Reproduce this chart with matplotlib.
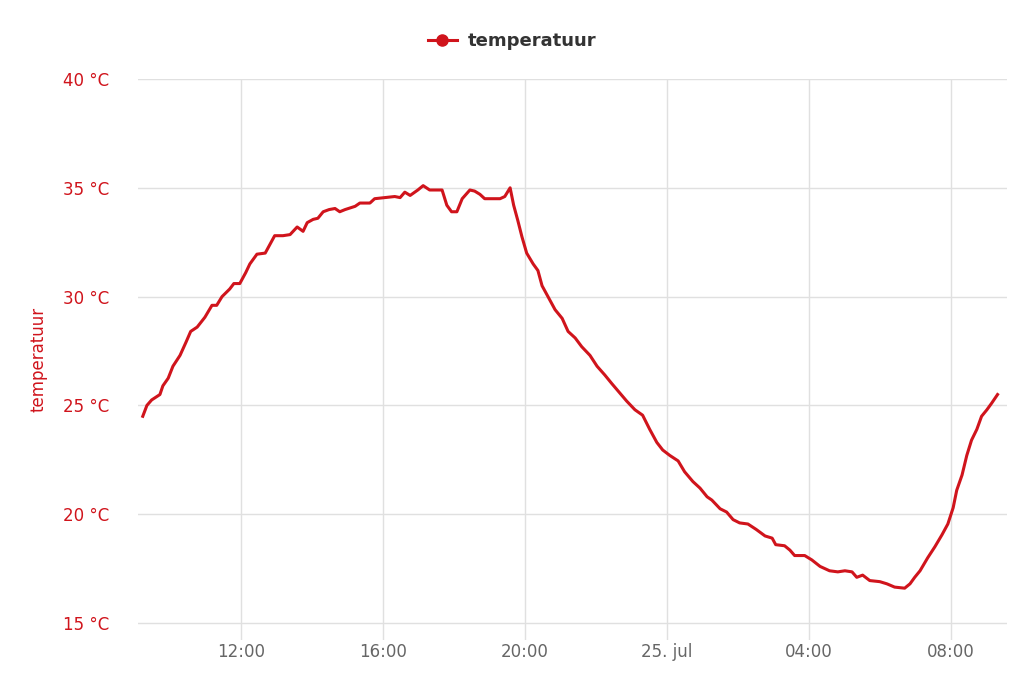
import matplotlib
matplotlib.use("Agg")
import matplotlib.pyplot as plt
import matplotlib.dates as mdates
from matplotlib.lines import Line2D
import pandas as pd

# meetmomenten (24 -> 25 juli)
tijden = [
    "24 09:14", "24 09:21", "24 09:29", "24 09:43", "24 09:48", "24 09:57",
    "24 10:05", "24 10:17", "24 10:27", "24 10:35", "24 10:46", "24 10:59",
    "24 11:11", "24 11:19", "24 11:28", "24 11:41", "24 11:48", "24 11:58",
    "24 12:08", "24 12:15", "24 12:27", "24 12:41", "24 12:49", "24 12:57",
    "24 13:11", "24 13:23", "24 13:35", "24 13:45", "24 13:52", "24 14:02",
    "24 14:10", "24 14:19", "24 14:29", "24 14:39", "24 14:47", "24 14:56",
    "24 15:13", "24 15:21", "24 15:38", "24 15:46", "24 16:03", "24 16:20",
    "24 16:29", "24 16:37", "24 16:46", "24 16:59", "24 17:08", "24 17:19",
    "24 17:33", "24 17:40", "24 17:48", "24 17:56", "24 18:05", "24 18:14",
    "24 18:27", "24 18:35", "24 18:44", "24 18:52", "24 19:18", "24 19:26",
    "24 19:35", "24 19:41", "24 19:48", "24 19:55", "24 20:03", "24 20:14",
    "24 20:22", "24 20:29", "24 20:39", "24 20:51", "24 21:03", "24 21:13",
    "24 21:25", "24 21:36", "24 21:50", "24 22:02", "24 22:15", "24 22:27",
    "24 22:41", "24 22:52", "24 23:06", "24 23:19", "24 23:31", "24 23:43",
    "24 23:53", "25 00:05", "25 00:19", "25 00:30", "25 00:44", "25 00:56",
    "25 01:08", "25 01:16", "25 01:30", "25 01:41", "25 01:52", "25 02:03",
    "25 02:17", "25 02:31", "25 02:46", "25 02:58", "25 03:04", "25 03:19",
    "25 03:28", "25 03:36", "25 03:53", "25 04:05", "25 04:19", "25 04:35",
    "25 04:49", "25 05:01", "25 05:13", "25 05:21", "25 05:31", "25 05:43",
    "25 06:00", "25 06:12", "25 06:25", "25 06:42", "25 06:51", "25 06:59",
    "25 07:08", "25 07:21", "25 07:33", "25 07:45", "25 07:55", "25 08:04",
    "25 08:10", "25 08:19", "25 08:27", "25 08:35", "25 08:44", "25 08:52",
    "25 09:01", "25 09:09", "25 09:19",
]
temperatuur = [
    24.5, 25.0, 25.25, 25.5, 25.9, 26.25,
    26.8, 27.3, 27.9, 28.4, 28.6, 29.05,
    29.6, 29.6, 30.0, 30.35, 30.6, 30.6,
    31.1, 31.5, 31.95, 32.0, 32.4, 32.8,
    32.8, 32.85, 33.2, 33.0, 33.4, 33.55,
    33.6, 33.9, 34.0, 34.05, 33.9, 34.0,
    34.15, 34.3, 34.3, 34.5, 34.55, 34.6,
    34.55, 34.8, 34.65, 34.9, 35.1, 34.9,
    34.9, 34.9, 34.2, 33.9, 33.9, 34.5,
    34.9, 34.85, 34.7, 34.5, 34.5, 34.6,
    35.0, 34.2, 33.5, 32.75, 32.0, 31.5,
    31.2, 30.5, 30.0, 29.4, 29.0, 28.4,
    28.1, 27.7, 27.3, 26.8, 26.4, 26.0,
    25.55, 25.2, 24.8, 24.55, 23.9, 23.3,
    22.95, 22.7, 22.45, 21.95, 21.5, 21.2,
    20.8, 20.65, 20.25, 20.1, 19.75, 19.6,
    19.55, 19.3, 19.0, 18.9, 18.6, 18.55,
    18.35, 18.1, 18.1, 17.9, 17.6, 17.4,
    17.35, 17.4, 17.35, 17.1, 17.2, 16.95,
    16.9, 16.8, 16.65, 16.6, 16.8, 17.1,
    17.4, 18.0, 18.5, 19.05, 19.55, 20.3,
    21.1, 21.8, 22.7, 23.4, 23.9, 24.5,
    24.8, 25.1, 25.5,
]
y_ticks = [15, 20, 25, 30, 35, 40]

ROOD = "#d0141c"
tijd = pd.to_datetime(["2024-07-" + t for t in tijden])

fig = plt.figure(figsize=(10.24, 6.83), dpi=100)
ax = fig.add_axes([0.1348, 0.063, 0.8486, 0.8213])

ax.plot(tijd, temperatuur, color=ROOD, linewidth=2.2, solid_joinstyle="round")

ax.set_xlim(pd.Timestamp("2024-07-24 09:06"), pd.Timestamp("2024-07-25 09:35"))
ax.set_ylim(14.22, 40)
ax.set_yticks(y_ticks)
ax.set_yticklabels([f"{v} °C" for v in y_ticks])

ax.xaxis.set_major_locator(mdates.HourLocator(byhour=[0, 4, 8, 12, 16, 20]))


def tijd_label(x, pos):
    d = mdates.num2date(x)
    if d.hour == 0:
        return f"{d.day}. jul"
    return d.strftime("%H:%M")


ax.xaxis.set_major_formatter(plt.FuncFormatter(tijd_label))

ax.grid(True, color="#e0e0e0", linewidth=1.0)
ax.set_axisbelow(True)
for s in ax.spines.values():
    s.set_visible(False)

ax.tick_params(axis="y", length=0, pad=21, labelsize=12, labelcolor=ROOD)
ax.tick_params(axis="x", length=0, pad=2, labelsize=12, labelcolor="#666666")

ax.set_ylabel("temperatuur", color=ROOD, fontsize=12, labelpad=11)

proxy = Line2D([], [], color=ROOD, linewidth=2.2, marker="o", markersize=8)
fig.legend([proxy], ["temperatuur"], loc="center", bbox_to_anchor=(0.5, 0.94),
           frameon=False, handlelength=1.6, handletextpad=0.6,
           prop={"weight": "bold", "size": 13}, labelcolor="#333333")

fig.savefig("out.png", dpi=100)
